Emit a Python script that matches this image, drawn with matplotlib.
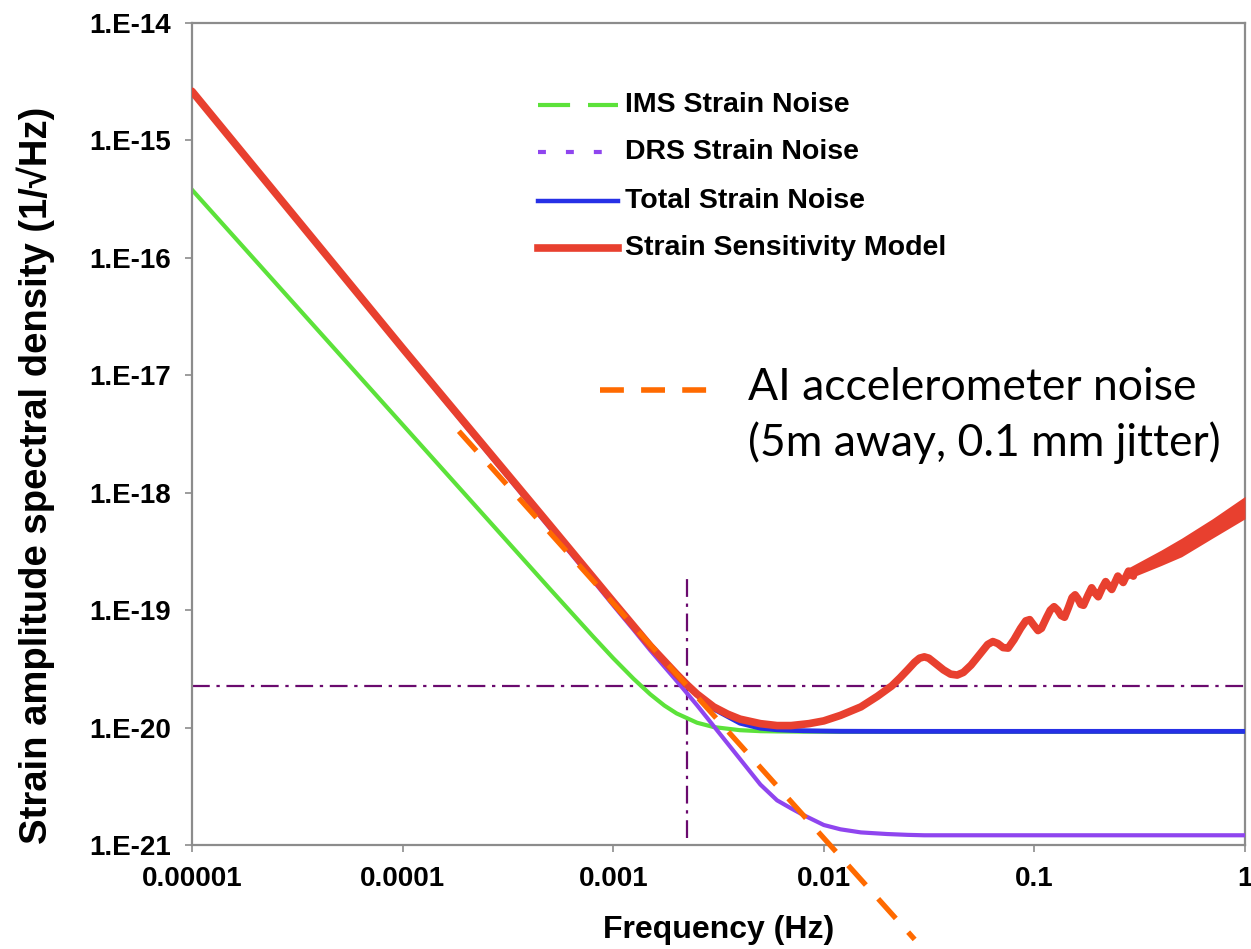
import matplotlib

matplotlib.use("Agg")
import matplotlib.pyplot as plt
from matplotlib.lines import Line2D

# --- data ------------------------------------------------------------------
freq = [1e-5, 1e-4, 5e-4, 8e-4, 1e-3, 1.25e-3, 1.5e-3, 1.75e-3, 2e-3, 2.5e-3,
        3e-3, 4e-3, 5e-3, 6e-3, 7e-3, 8e-3, 1e-2, 1.2e-2, 1.5e-2, 2e-2, 2.5e-2, 3e-2, 1.0]
ims_noise = [3.8e-16, 3.8e-18, 1.52e-19, 6.0e-20, 3.9e-20, 2.6e-20, 1.92e-20, 1.54e-20,
             1.32e-20, 1.10e-20, 1.01e-20, 9.5e-21, 9.32e-21, 9.27e-21, 9.25e-21, 9.23e-21,
             9.22e-21, 9.2e-21, 9.2e-21, 9.2e-21, 9.2e-21, 9.2e-21, 9.2e-21]
drs_noise = [2.57e-15, 1.65e-17, 5.0e-19, 1.8e-19, 1.1e-19, 6.8e-20, 4.55e-20, 3.3e-20,
             2.5e-20, 1.55e-20, 1.03e-20, 5.4e-21, 3.27e-21, 2.4e-21, 2.05e-21, 1.8e-21,
             1.48e-21, 1.36e-21, 1.28e-21, 1.24e-21, 1.22e-21, 1.21e-21, 1.21e-21]
total_noise = [2.6e-15, 1.69e-17, 5.23e-19, 1.9e-19, 1.17e-19, 7.28e-20, 4.93e-20, 3.64e-20,
               2.83e-20, 1.9e-20, 1.44e-20, 1.09e-20, 9.88e-21, 9.58e-21, 9.47e-21, 9.4e-21,
               9.34e-21, 9.3e-21, 9.29e-21, 9.28e-21, 9.28e-21, 9.28e-21, 9.28e-21]

model_freq = [1e-5, 1e-4, 5e-4, 1e-3, 1.5e-3, 2e-3, 2.25e-3, 2.5e-3, 3e-3, 3.5e-3, 4e-3,
              5e-3, 6e-3, 7e-3, 8.5e-3, 1e-2, 1.2e-2, 1.5e-2, 1.8e-2, 2.1e-2, 2.3e-2,
              2.5e-2, 2.7e-2, 2.85e-2, 3.0e-2, 3.15e-2, 3.4e-2, 3.7e-2, 4.0e-2, 4.3e-2,
              4.6e-2, 5.0e-2, 5.5e-2, 6.0e-2, 6.35e-2, 6.7e-2, 7.1e-2, 7.5e-2, 8.0e-2,
              8.6e-2, 9.1e-2, 9.5e-2, 9.9e-2, 0.104, 0.108, 0.114, 0.119, 0.124, 0.129,
              0.134, 0.139, 0.145, 0.151, 0.156, 0.161, 0.166, 0.171, 0.180, 0.187,
              0.194, 0.201, 0.210, 0.218, 0.226, 0.233, 0.249, 0.264, 0.280, 0.295]
model_sens = [2.62e-15, 1.7e-17, 5.3e-19, 1.18e-19, 4.95e-20, 2.85e-20, 2.3e-20, 1.93e-20,
              1.5e-20, 1.3e-20, 1.18e-20, 1.08e-20, 1.04e-20, 1.04e-20, 1.08e-20,
              1.14e-20, 1.27e-20, 1.5e-20, 1.85e-20, 2.26e-20, 2.65e-20,
              3.1e-20, 3.6e-20, 3.9e-20, 4.0e-20, 3.9e-20, 3.5e-20, 3.1e-20, 2.85e-20, 2.8e-20,
              2.95e-20, 3.4e-20, 4.2e-20, 5.1e-20, 5.4e-20, 5.2e-20, 4.8e-20, 4.75e-20, 5.6e-20,
              7.0e-20, 8.1e-20, 8.3e-20, 7.5e-20, 6.7e-20, 7.0e-20, 8.6e-20, 1.0e-19, 1.07e-19,
              1.0e-19, 9.0e-20, 8.7e-20, 1.05e-19, 1.28e-19, 1.35e-19, 1.25e-19, 1.12e-19,
              1.1e-19, 1.35e-19, 1.55e-19, 1.4e-19, 1.3e-19, 1.55e-19, 1.75e-19, 1.6e-19,
              1.5e-19, 1.95e-19, 1.72e-19, 2.15e-19, 1.95e-19]

# fast ripple above ~0.28 Hz shows as a thick band
band_freq = [0.28, 0.4, 0.5, 0.7, 1.0]
band_low = [1.85e-19, 2.4e-19, 2.85e-19, 4.1e-19, 6.0e-19]
band_high = [2.3e-19, 3.25e-19, 4.1e-19, 6.0e-19, 9.3e-19]

ai_freq = [1.85e-4, 2.7e-2]
ai_noise = [3.34e-18, 1.57e-22]

cross_freq = 2.25e-3
cross_level = 2.26e-20

xticks = [1e-5, 1e-4, 1e-3, 1e-2, 1e-1, 1]
xtick_labels = ["0.00001", "0.0001", "0.001", "0.01", "0.1", "1"]
yticks = [1e-21, 1e-20, 1e-19, 1e-18, 1e-17, 1e-16, 1e-15, 1e-14]
ytick_labels = ["1.E-21", "1.E-20", "1.E-19", "1.E-18", "1.E-17", "1.E-16", "1.E-15", "1.E-14"]

legend_labels = ["IMS Strain Noise", "DRS Strain Noise", "Total Strain Noise",
                 "Strain Sensitivity Model"]

palette = {
    "green": "#5ce23a",
    "purple": "#8f45ef",
    "blue": "#2630e6",
    "red": "#e8402f",
    "orange": "#ff6a00",
    "cross": "#6a0a6e",
    "spine": "#8c8c8c",
}

plt.rcParams["font.family"] = ["Liberation Sans", "DejaVu Sans"]

W, H = 1251, 949
fig = plt.figure(figsize=(W / 100, H / 100), dpi=100, facecolor="white")
ax = fig.add_axes([192 / W, 1 - 845 / H, (1245 - 192) / W, (845 - 23) / H])

ax.set_xscale("log")
ax.set_yscale("log")
ax.set_xlim(1e-5, 1)
ax.set_ylim(1e-21, 1e-14)

# crosshair
ax.plot([freq[0], freq[-1]], [cross_level, cross_level], color=palette["cross"],
        lw=1.6, dashes=(8, 3, 1.5, 3), zorder=1)
ax.plot([cross_freq, cross_freq], [1.15e-21, 1.9e-19], color=palette["cross"],
        lw=1.6, dashes=(8, 3, 1.5, 3), zorder=1)

ax.plot(freq, ims_noise, color=palette["green"], lw=3.0, zorder=2)
ax.plot(freq, drs_noise, color=palette["purple"], lw=3.0, zorder=3)
ax.plot(freq, total_noise, color=palette["blue"], lw=3.5, zorder=4)
ax.plot(model_freq, model_sens, color=palette["red"], lw=5.5, zorder=5,
        solid_joinstyle="round", solid_capstyle="round")
ax.fill_between(band_freq, band_low, band_high, color=palette["red"], lw=0, zorder=5)
ax.plot(ai_freq, ai_noise, color=palette["orange"], lw=3.8, dashes=(5, 3.5),
        zorder=6, clip_on=False)

ax.minorticks_off()
ax.set_xticks(xticks)
ax.set_xticklabels(xtick_labels)
ax.set_yticks(yticks)
ax.set_yticklabels(ytick_labels)
ax.tick_params(axis="both", which="major", length=5, width=1.2, color=palette["spine"],
               labelsize=20, pad=10)
for lab in ax.get_xticklabels() + ax.get_yticklabels():
    lab.set_fontweight("bold")
for spine in ax.spines.values():
    spine.set_edgecolor(palette["spine"])
    spine.set_linewidth(1.6)

ax.set_xlabel("Frequency (Hz)", fontsize=23, fontweight="bold")
ax.xaxis.set_label_coords(0.5, -0.085)
ax.set_ylabel("Strain amplitude spectral density (1/\u221aHz)", fontsize=27.5,
              fontweight="bold")
ax.yaxis.set_label_coords(-0.13, 0.45)

# legend drawn by hand: the sample styles differ from the plotted lines
legend_styles = [
    dict(color=palette["green"], lw=3.0, dashes=(7.7, 4.3)),
    dict(color=palette["purple"], lw=3.0, dashes=(1.9, 4.8)),
    dict(color=palette["blue"], lw=3.2),
    dict(color=palette["red"], lw=5.5),
]
row_y = [105, 152, 201, 248]
for label, style, yy in zip(legend_labels, legend_styles, row_y):
    fy = 1 - yy / H
    fig.add_artist(Line2D([538 / W, 618 / W], [fy, fy], transform=fig.transFigure, **style))
    fig.text(625 / W, fy, label, fontsize=20.5, fontweight="bold", va="center", ha="left")

# AI accelerometer annotation
fy = 1 - 390 / H
fig.add_artist(Line2D([600 / W, 708 / W], [fy, fy], transform=fig.transFigure,
                      color=palette["orange"], lw=4.0, dashes=(4.3, 3.1)))
fig.text(748 / W, 1 - 388 / H, "AI accelerometer noise", fontsize=32, family="Lato",
         va="center", ha="left")
fig.text(748 / W, 1 - 443 / H, "(5m away, 0.1 mm jitter)", fontsize=32, family="Lato",
         va="center", ha="left")

fig.savefig("out.png", dpi=100, facecolor="white")
